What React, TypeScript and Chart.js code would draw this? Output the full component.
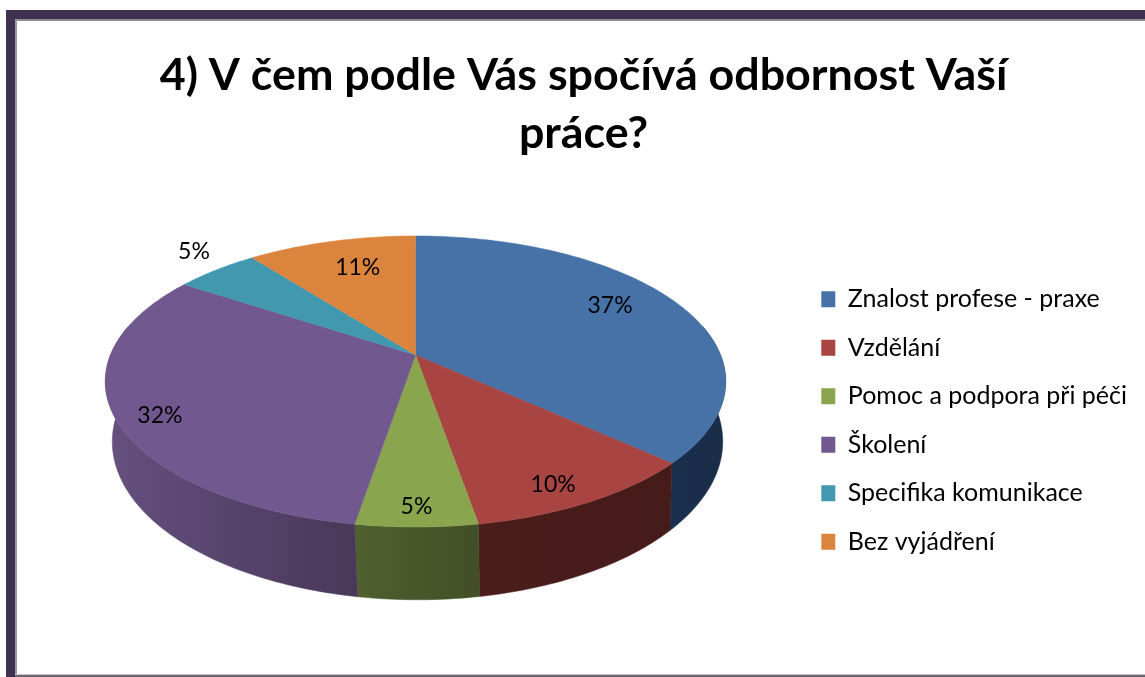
import { useEffect, useRef } from "react";
import { Chart, registerables } from "chart.js";

Chart.register(...registerables);

const titleLines = ["4) V čem podle Vás spočívá odbornost Vaší", "práce?"];
const categories = [
  "Znalost profese - praxe",
  "Vzdělání",
  "Pomoc a podpora při péči",
  "Školení",
  "Specifika komunikace",
  "Bez vyjádření",
];
const shares = [36.8, 10.49, 5.33, 31.68, 5.2, 10.5];
const sliceColors = ["#4672a8", "#a84442", "#89a54e", "#71588f", "#4198af", "#db843d"];
const wallLight = ["#1a2f4c", "#4b1d1b", "#50602f", "#66507f", "#24586a", "#80491d"];
const wallDark = ["#192d48", "#451b1a", "#424f26", "#483859", "#24586a", "#80491d"];
const labelRadius = [0.776, 0.88, 0.9, 0.873, 1.19, 0.73];
const labelTurn = [-4.9, 2.6, 0, -3.5, 2.4, 1.9];

const FONT = "Lato";
const APEX = { x: 415.5, y: 355 };
const PERSPECTIVE = 0.182;
const RADIUS_X = 305;
const RADIUS_Y = 140.7;
const FLOOR = { x: 417.5, y: 440, topX: 415.5, topY: 380, sx: 0.984, sy: 1.087 };
const RAD = Math.PI / 180;

function project(theta: number, r = 1) {
  const u = r * Math.sin(theta);
  const v = -r * Math.cos(theta);
  const w = 1 - PERSPECTIVE * v;
  return { x: APEX.x + (RADIUS_X * u) / w, y: APEX.y + (RADIUS_Y * v) / w };
}

function toFloor(p: { x: number; y: number }) {
  return {
    x: FLOOR.x + FLOOR.sx * (p.x - FLOOR.topX),
    y: FLOOR.y + FLOOR.sy * (p.y - FLOOR.topY),
  };
}

function rim(start: number, end: number) {
  const n = Math.max(2, Math.ceil((end - start) / RAD));
  const pts = [];
  for (let i = 0; i <= n; i++) pts.push(project(start + ((end - start) * i) / n));
  return pts;
}

const pie3d = {
  id: "pie3d",
  beforeDatasetDraw(chart: any) {
    const ctx = chart.ctx;
    const arcs = chart.getDatasetMeta(0).data;
    const spans = arcs.map((a: any) => ({
      start: a.startAngle + Math.PI / 2,
      end: a.endAngle + Math.PI / 2,
    }));
    const frontA = 78 * RAD;
    const frontB = 282 * RAD;

    ctx.save();
    spans.forEach((s: any, i: number) => {
      const a = Math.max(s.start, frontA);
      const b = Math.min(s.end, frontB);
      if (b <= a) return;
      const top = rim(a, b);
      const bottom = top.map(toFloor);
      const xs = top.map((p) => p.x);
      const g = ctx.createLinearGradient(Math.min(...xs), 0, Math.max(...xs), 0);
      g.addColorStop(0, wallLight[i]);
      g.addColorStop(1, wallDark[i]);
      ctx.beginPath();
      top.forEach((p, k) => (k ? ctx.lineTo(p.x, p.y) : ctx.moveTo(p.x, p.y)));
      bottom.reverse().forEach((p) => ctx.lineTo(p.x, p.y));
      ctx.closePath();
      ctx.fillStyle = g;
      ctx.strokeStyle = g;
      ctx.lineWidth = 0.5;
      ctx.fill();
      ctx.stroke();
    });
    spans.forEach((s: any, i: number) => {
      ctx.beginPath();
      ctx.moveTo(APEX.x, APEX.y);
      rim(s.start, s.end).forEach((p) => ctx.lineTo(p.x, p.y));
      ctx.closePath();
      ctx.fillStyle = sliceColors[i];
      ctx.strokeStyle = sliceColors[i];
      ctx.lineWidth = 0.5;
      ctx.fill();
      ctx.stroke();
    });
    ctx.fillStyle = "#000";
    ctx.font = `23px ${FONT}`;
    ctx.textAlign = "center";
    ctx.textBaseline = "middle";
    spans.forEach((s: any, i: number) => {
      const p = project((s.start + s.end) / 2 + labelTurn[i] * RAD, labelRadius[i]);
      ctx.fillText(`${Math.round(shares[i])}%`, p.x, p.y);
    });
    ctx.restore();
    return false;
  },
};

export default function App() {
  const ref = useRef<HTMLCanvasElement>(null);
  useEffect(() => {
    const chart = new Chart(ref.current as HTMLCanvasElement, {
      type: "pie",
      data: {
        labels: categories,
        datasets: [{ data: shares, backgroundColor: sliceColors, borderWidth: 0 }],
      },
      options: {
        animation: false,
        responsive: false,
        layout: { padding: { left: 30, right: 8, top: 46, bottom: -118 } },
        plugins: {
          tooltip: { enabled: false },
          title: {
            display: true,
            text: titleLines,
            color: "#000",
            font: { family: FONT, size: 44.8, weight: "bold", lineHeight: 1.3 },
            padding: { top: 0, bottom: 20 },
          },
          legend: {
            position: "right",
            labels: {
              color: "#000",
              font: { family: FONT, size: 25 },
              boxWidth: 14,
              boxHeight: 16,
              padding: 23.5,
            },
          },
        },
      },
      plugins: [pie3d],
    } as any);
    return () => chart.destroy();
  }, []);

  const bar = (s: any) => <div style={{ position: "absolute", ...s }} />;
  return (
    <div style={{ position: "fixed", left: 0, top: 0, width: 1145, height: 677, background: "#fff", overflow: "hidden" }}>
      {bar({ left: 6, top: 10, right: 0, height: 9, background: "#403152" })}
      {bar({ left: 15, top: 19, right: 0, height: 2, background: "#8c8c8c" })}
      {bar({ left: 6, top: 10, width: 9, bottom: 0, background: "#403152" })}
      {bar({ left: 15, top: 19, width: 2, bottom: 0, background: "#9a9a9a" })}
      {bar({ left: 15, top: 674, right: 0, height: 1, background: "#c8c8c8" })}
      {bar({ left: 15, top: 675, right: 0, height: 2, background: "#6b6372" })}
      <canvas ref={ref} width={1145} height={677} style={{ position: "absolute", left: 0, top: 0, display: "block" }} />
    </div>
  );
}
